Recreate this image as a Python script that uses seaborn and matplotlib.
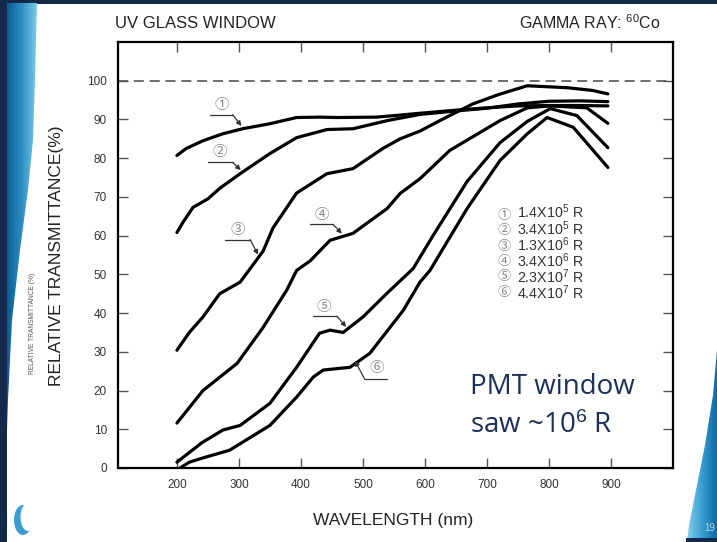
import numpy as np
import pandas as pd
import matplotlib
matplotlib.use("Agg")
import matplotlib.pyplot as plt
import seaborn as sns
from matplotlib.patches import Polygon, Rectangle, Ellipse

# ---------------- data ----------------
curve_ids = ["1", "2", "3", "4", "5", "6"]
wl1 = [200, 215, 242, 274, 306, 350, 393, 430, 458, 522, 565, 592, 650, 700, 750, 800, 850, 895]
t1 = [80.7, 82.5, 84.5, 86.3, 87.6, 88.9, 90.5, 90.6, 90.5, 90.6, 91.2, 91.6, 92.4, 93.0, 93.5, 93.6, 93.6, 93.5]
wl2 = [200, 210, 226, 250, 269, 302, 350, 393, 442, 484, 539, 592, 650, 700, 750, 800, 850, 895]
t2 = [60.8, 63.5, 67.3, 69.5, 72.2, 76.0, 81.2, 85.3, 87.4, 87.6, 89.7, 91.3, 92.2, 92.9, 94.0, 94.7, 94.8, 94.6]
wl3 = [200, 220, 242, 269, 302, 339, 355, 393, 442, 484, 532, 560, 592, 624, 677, 720, 765, 829, 870, 895]
t3 = [30.4, 35.0, 39.0, 45.0, 48.0, 56.0, 62.0, 71.0, 76.0, 77.3, 82.5, 85.0, 87.0, 89.7, 94.0, 96.5, 98.7, 98.2, 97.5, 96.6]
wl4 = [200, 242, 297, 339, 377, 393, 415, 447, 484, 539, 560, 592, 640, 721, 765, 802, 861, 895]
t4 = [11.6, 20.0, 27.0, 36.3, 45.9, 51.0, 53.5, 58.8, 60.6, 67.0, 70.9, 74.7, 82.0, 89.7, 93.0, 93.5, 93.0, 89.0]
wl5 = [200, 240, 274, 302, 350, 393, 430, 447, 468, 500, 538, 581, 613, 668, 721, 765, 802, 845, 895]
t5 = [1.5, 6.5, 9.8, 11.0, 16.7, 26.0, 34.8, 35.6, 35.0, 39.0, 45.0, 51.5, 60.0, 74.0, 84.0, 89.5, 92.8, 91.0, 82.7]
wl6 = [205, 220, 242, 285, 350, 393, 420, 436, 479, 511, 565, 592, 608, 668, 721, 765, 797, 839, 895]
t6 = [0.0, 1.5, 2.6, 4.6, 11.0, 18.3, 23.5, 25.3, 26.0, 29.6, 40.7, 48.0, 51.0, 67.0, 79.4, 86.3, 90.5, 88.0, 77.6]

legend_marks = ["\u2460", "\u2461", "\u2462", "\u2463", "\u2464", "\u2465"]
legend_doses = [r"1.4X10$^5$ R", r"3.4X10$^5$ R", r"1.3X10$^6$ R",
                r"3.4X10$^6$ R", r"2.3X10$^7$ R", r"4.4X10$^7$ R"]
x_ticks = [200, 300, 400, 500, 600, 700, 800, 900]
y_ticks = [0, 10, 20, 30, 40, 50, 60, 70, 80, 90, 100]

wls = [wl1, wl2, wl3, wl4, wl5, wl6]
ts = [t1, t2, t3, t4, t5, t6]
df = pd.concat([pd.DataFrame({"wl": w, "t": t, "curve": c}) for w, t, c in zip(wls, ts, curve_ids)],
               ignore_index=True)

# ---------------- style ----------------
sns.set_style("ticks")
plt.rcParams["font.family"] = ["Liberation Sans", "Noto Sans CJK JP", "DejaVu Sans"]
plt.rcParams["mathtext.fontset"] = "custom"
plt.rcParams["mathtext.rm"] = "Liberation Sans"
plt.rcParams["mathtext.it"] = "Liberation Sans:italic"
plt.rcParams["mathtext.bf"] = "Liberation Sans:bold"

W, H = 717, 542
fig = plt.figure(figsize=(W / 100, H / 100), dpi=100)
fig.patch.set_facecolor("white")

# ---------------- slide decoration (pixel coords) ----------------
bg = fig.add_axes([0, 0, 1, 1], zorder=-10)
bg.set_xlim(0, W)
bg.set_ylim(H, 0)
bg.axis("off")
navy = "#14284b"
bg.add_patch(Rectangle((0, 0), W, 3.5, color=navy, lw=0))
bg.add_patch(Rectangle((0, 0), 7, H, color=navy, lw=0))

grad = np.linspace(0, 1, 64).reshape(1, -1)
cmap_l = matplotlib.colors.LinearSegmentedColormap.from_list("l", ["#0b5d94", "#2f8fc4", "#7ccbe8"])
left_poly = Polygon([(7, 3), (37, 3), (35, 80), (33, 140), (28, 190), (20, 250), (12, 320),
                     (8, 400), (7, 430)],
                    closed=True, facecolor="none", edgecolor="none")
bg.add_patch(left_poly)
im = bg.imshow(grad, extent=(7, 37, 430, 3), cmap=cmap_l, aspect="auto", zorder=1)
im.set_clip_path(left_poly)

cmap_r = matplotlib.colors.LinearSegmentedColormap.from_list("r", ["#8fd4ee", "#3a9fd2", "#0d6aa6"])
right_poly = Polygon([(717, 350), (713, 395), (705, 445), (696, 490), (689, 525), (687, 542), (717, 542)],
                     closed=True, facecolor="none", edgecolor="none")
bg.add_patch(right_poly)
im2 = bg.imshow(grad, extent=(686, 717, 542, 350), cmap=cmap_r, aspect="auto", zorder=1)
im2.set_clip_path(right_poly)
bg.add_patch(Rectangle((686, 538), 31, 4, color=navy, lw=0, zorder=2))
bg.text(704, 528, "19", fontsize=7, color="#b7d6ea", va="center", ha="left", zorder=3)

bg.add_patch(Ellipse((23, 520), 18, 30, color="#3a9fd0", lw=0, zorder=2))
bg.add_patch(Ellipse((28, 517), 15, 28, color="white", lw=0, zorder=3))

# ---------------- main axes ----------------
ax = fig.add_axes([118 / W, 1 - 468 / H, 555 / W, 426 / H])
ax.set_facecolor("white")
sns.lineplot(data=df, x="wl", y="t", hue="curve", palette=["black"] * 6, units="curve",
             estimator=None, sort=False, legend=False, lw=2.3, ax=ax,
             solid_joinstyle="round", solid_capstyle="round")
ax.axhline(100, color="#555555", lw=1.2, dashes=(6, 3.5), zorder=1)

ax.set_xlim(105, 1000)
ax.set_ylim(0, 110)
ax.set_xticks(x_ticks)
ax.set_yticks(y_ticks)
ax.set_xlabel("")
ax.set_ylabel("")
ax.tick_params(direction="in", length=7, width=1, color="#555555", labelcolor="#333333",
               labelsize=8.5, top=True, right=True, pad=8)
for s in ax.spines.values():
    s.set_linewidth(1.6)
    s.set_color("black")
    s.set_visible(True)

# curve labels with leaders: (text x, text y, line x0, line x1, line y, tip wavelength)
leaders = [
    (272, 93.8, 253, 290, 91.2, 304),
    (269, 81.6, 250, 290, 78.9, 303),
    (298, 61.5, 277, 318, 59.0, 331),
    (434, 65.4, 414, 452, 62.9, 466),
    (437, 41.7, 419, 458, 39.2, 473),
    (523, 25.7, 539, 503, 22.9, 487),
]
for (tx, ty, x0, x1, yl, tip), w, t, mark in zip(leaders, wls, ts, legend_marks):
    ax.text(tx, ty, mark, fontsize=10.5, color="#888888", ha="center", va="center",
            family=["Noto Sans CJK JP", "DejaVu Sans"])
    ax.plot([x0, x1], [yl, yl], color="#333333", lw=0.9)
    tip_y = np.interp(tip, w, t) + 0.8
    ax.annotate("", xy=(tip, tip_y), xytext=(x1, yl),
                arrowprops=dict(arrowstyle="-|>", color="#333333", lw=0.9,
                                mutation_scale=7, shrinkA=0, shrinkB=0))

# in-plot legend block
row_step = 3.97
for i, mark in enumerate(legend_marks):
    ax.text(727, 65.2 - i * row_step, mark, fontsize=9.5, color="#888888", ha="center", va="center",
            family=["Noto Sans CJK JP", "DejaVu Sans"])
ax.text(749, 65.2 - 2.5 * row_step + 0.4, "\n".join(legend_doses), fontsize=10.3, color="#333333",
        ha="left", va="center", linespacing=0.84)

# ---------------- figure texts ----------------
fig.text(115 / W, 1 - 23 / H, "UV GLASS WINDOW", fontsize=12, color="#222222", ha="left", va="center")
fig.text(661 / W, 1 - 23 / H, r"GAMMA RAY: $^{60}$Co", fontsize=11.5, color="#222222", ha="right", va="center")
fig.text(57 / W, 1 - 256 / H, "RELATIVE TRANSMITTANCE(%)", fontsize=12.5, color="#222222",
         rotation=90, ha="center", va="center")
fig.text(33 / W, 1 - 323 / H, "RELATIVE TRANSMITTANCE (%)", fontsize=4.8, color="#555555",
         rotation=90, ha="center", va="center")
fig.text(393 / W, 1 - 520 / H, "WAVELENGTH (nm)", fontsize=12.5, color="#222222", ha="center", va="center")
fig.text(470 / W, 1 - 387 / H, "PMT window", fontsize=20, color="#1b2f57", ha="left", va="center",
         family=["Open Sans", "DejaVu Sans"])
fig.text(470 / W, 1 - 426 / H, r"saw ~10$^{6}$ R", fontsize=20, color="#1b2f57", ha="left", va="center",
         family=["Open Sans", "DejaVu Sans"])

fig.savefig("out.png", dpi=100)
